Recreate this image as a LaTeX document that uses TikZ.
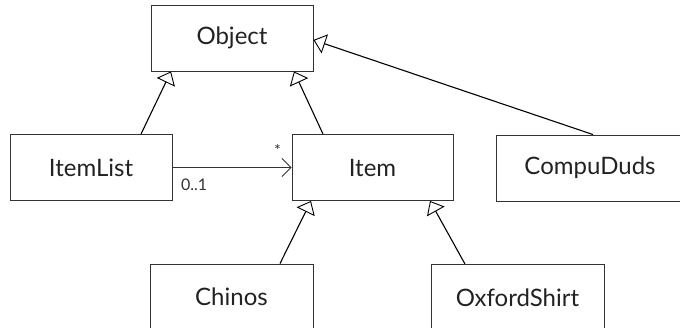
\documentclass[tikz,border=0pt]{standalone}
\usepackage{fontspec}
\setmainfont{Lato}
\usetikzlibrary{arrows.meta}
\definecolor{ink}{HTML}{222222}
\definecolor{rule}{HTML}{333333}
\tikzset{
  classbox/.style={draw=rule, line width=0.9pt, text=ink, minimum height=66pt,
    inner sep=0pt, font=\fontsize{24}{28}\selectfont},
  inherits/.style={draw=black, line width=1.1pt,
    -{Triangle[open, length=12pt, width=20pt, line width=0.9pt]}},
  assoc/.style={draw=rule, line width=1.1pt,
    -{Straight Barb[length=9pt, width=18pt, line width=0.9pt]}},
  mult/.style={text=rule, font=\fontsize{16}{18}\selectfont, inner sep=0pt}
}
\begin{document}
\begin{tikzpicture}[x=1pt, y=-1pt]
  \useasboundingbox (0,0) rectangle (680,327);
  % class boxes
  \node[classbox, minimum width=162pt] (Object) at (232,38) {Object};
  \node[classbox, minimum width=162pt] (ItemList) at (91,167.5) {ItemList};
  \node[classbox, minimum width=161pt] (Item) at (372.5,167.5) {Item};
  \node[classbox, minimum width=188pt] (CompuDuds) at (590,168) {CompuDuds};
  \node[classbox, minimum width=163pt] (Chinos) at (231.5,297) {Chinos};
  \node[classbox, minimum width=173pt] (OxfordShirt) at (517.5,297.5) {OxfordShirt};
  % generalisations
  \draw[inherits] ([xshift=50pt]ItemList.north) -- ([xshift=-61pt]Object.south);
  \draw[inherits] ([xshift=-49.5pt]Item.north) -- ([xshift=62pt]Object.south);
  \draw[inherits] ([xshift=3pt]CompuDuds.north) -- ([yshift=-2pt]Object.east);
  \draw[inherits] ([xshift=48.5pt]Chinos.north) -- ([xshift=-61.5pt]Item.south);
  \draw[inherits] ([xshift=-52.5pt]OxfordShirt.north) -- ([xshift=57.5pt]Item.south);
  % association with multiplicities
  \draw[assoc] (ItemList.east) -- (Item.west)
    node[mult, pos=0, anchor=north west, xshift=8pt, yshift=-11pt] (lo) {0..1}
    node[mult, pos=1, anchor=south east, xshift=-10pt, yshift=10pt] (hi) {*};
\end{tikzpicture}
\end{document}
